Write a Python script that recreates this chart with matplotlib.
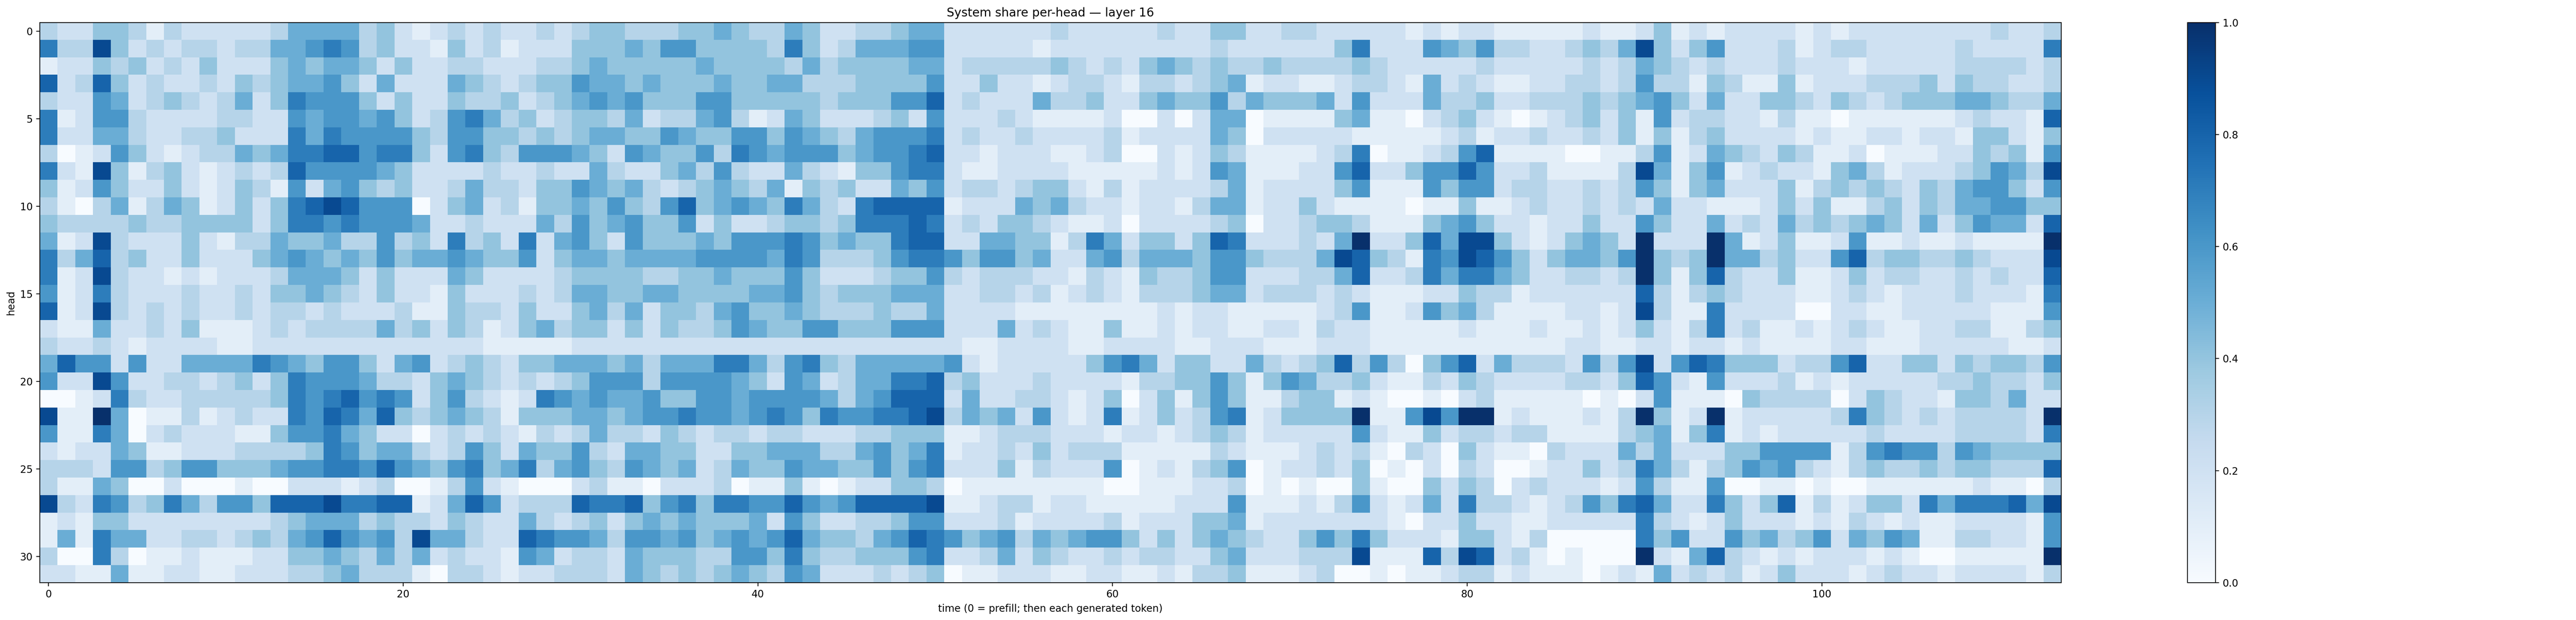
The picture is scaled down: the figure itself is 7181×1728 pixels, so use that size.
import numpy as np
import matplotlib
matplotlib.use("Agg")
import matplotlib.pyplot as plt

# System share per head in tenths.
# One string per head (0..31), one char per time step: "0".."9" -> 0.0..0.9, "X" -> 1.0
share_t000 = [
    "322443132222235", "733942323323355", "122434232422245", "823842322324345",
    "322652343235247", "712663222233226", "722553223342227", "301264212335457",
    "721941342123238", "412642242124316", "310351354124247", "433334334444247",
    "512932224213354", "735834224222456", "712932212122235", "612732223223244",
    "812932323223233", "211522324111232", "322321222211222", "586626225555765",
    "622962233234247", "001273223333347", "911X50113123227", "611750232221146",
    "212254112223333", "333266346644456", "311540020001002", "932763475366488",
    "121442222222234", "151755223323435", "300730112111224", "221151122112223",
]
share_t015 = [
    "555342123232232", "676342214231222", "455424223322233", "564252225432344",
    "666424224334234", "566564236753423", "576666436644343", "788677426743666",
    "666654222232232", "256434223533244", "898666024523144", "767666522322253",
    "453363427342725", "545464556544624", "554242225422223", "543242214222323",
    "232223114332422", "333353424312453", "222222222211111", "466425623432445",
    "666533245432323", "678676246321276", "687584345431444", "675422023232132",
    "476455323642544", "677686546745735", "221230013621000", "897788125862333",
    "555343324322532", "686563955322876", "454353523221652", "345333103321223",
]
share_t030 = [
    "344333445433542", "444546644443742", "454444454444353", "655454445445533",
    "565644466444443", "443523356312542", "455446544664654", "542654463765666",
    "253224536322532", "654532345435143", "546436845654753", "645644624223443",
    "642644454666764", "554555566665763", "444433445444642", "554455444455643",
    "453524435644543", "442424334654466", "222222222222222", "554535557753674",
    "466636666542652", "565564466566665", "554566766567647", "353324323323322",
    "632554422445553", "643654523544655", "231102223011410", "877846747766865",
    "342454544452642", "653665645656854", "332544433664743", "332543434543652",
]
share_t045 = [
    "233455222222322", "355566222221222", "444455233333432", "344446224221233",
    "444668232225334", "223426222321111", "356667232232222", "456678221222112",
    "144677211222211", "422546233234421", "278888122254532", "477787232443211",
    "544788225544137", "334677646645225", "223446323332213", "444555223323123",
    "334335222211111", "444666222523211", "222222211222211", "355555621222224",
    "355778342223222", "356888252233212", "667789354526212", "233444112333222",
    "356457122324233", "446467222413222", "122443011111111", "688889112331221",
    "233466222312222", "435687645635456", "344467223524322", "223234011222112",
]
share_t060 = [
    "222322442233222", "222222322222247", "324543433433334", "213323451221123",
    "224544635444526", "200202550111145", "312222540222221", "300212431111237",
    "111212651112268", "312222351222246", "212213551224211", "202222340223443",
    "52442487222325X", "635554664333598", "214334662223358", "213334552333232",
    "111212211111236", "411212211221322", "222211222111222", "675244225323483",
    "213344641465334", "402414641134412", "71242367124444X", "122123431222226",
    "311111321112323", "601213460122324", "001112230101004", "111122261112136",
    "312224451222222", "642424543224647", "323322452223339", "211213341112300",
]
share_t075 = [
    "221212211111211", "222654633223435", "322222322222323", "321523211223323",
    "222533422333434", "110234210123424", "111123122322324", "011236811110011",
    "224668622311113", "111646623322323", "110114112322323", "111456422122422",
    "224859942124542", "431769864245546", "223757754223323", "111224331222222",
    "112645311112212", "111112111211212", "111111111112211", "630468253332636",
    "211324322223324", "100102311111010", "11696XX12111213", "211423323311113",
    "103204211032225", "010203200122423", "100424302322212", "212527332123647",
    "210224221122222", "422214421300000", "111839823101000", "101123312111012",
]
share_t090 = [
    "241212222121222", "942462223123322", "543232223222122", "633143114122233",
    "564252244324323", "162332213110111", "141342222121122", "361254324311201",
    "951461232214531", "641452224134343", "252211124241134", "642252325343454",
    "X222X5124112611", "X434X5534226834", "X41483224112423", "831343222112321",
    "931172222002211", "421372311212321", "221221211112211", "926874442336822",
    "862162223121222", "261110433330243", "X412X1222223743", "451471212222232",
    "352224466661367", "753134656321343", "631160011010011", "852274248131244",
    "732124222121321", "746226453462546", "X21583212122212", "152323124222123",
]
share_t105 = [
    "222223223", "222322227", "222333323", "342433223",
    "444554335", "111232218", "122144214", "112243416",
    "222346539", "243566426", "243556644", "252465528",
    "21121111X", "433432229", "322323228", "222322217",
    "222221116", "122331134", "122222112", "442434436",
    "223343324", "221443522", "23233332X", "222333327",
    "663654444", "343443338", "111121103", "275777859",
    "211222216", "511332216", "10011111X", "221222213",
]

LEVELS = "0123456789X"


def build_matrix(blocks):
    rows = []
    for h in range(len(blocks[0])):
        line = "".join(b[h] for b in blocks)
        rows.append([LEVELS.index(c) / 10 for c in line])
    return np.array(rows)


share = build_matrix([share_t000, share_t015, share_t030, share_t045,
                      share_t060, share_t075, share_t090, share_t105])

fig, ax = plt.subplots(figsize=(35.91, 8.64), dpi=200)
# same margins as the reference (a tight layout there)
fig.subplots_adjust(left=0.0154, right=0.9962, bottom=0.0602, top=0.9638)
im = ax.imshow(share, aspect="auto", cmap="Blues", vmin=0, vmax=1,
               interpolation="nearest")
ax.set_title("System share per-head \u2014 layer 16")
ax.set_xlabel("time (0 = prefill; then each generated token)")
ax.set_ylabel("head")
fig.colorbar(im, ax=ax)
fig.savefig("out.png", dpi=200)
